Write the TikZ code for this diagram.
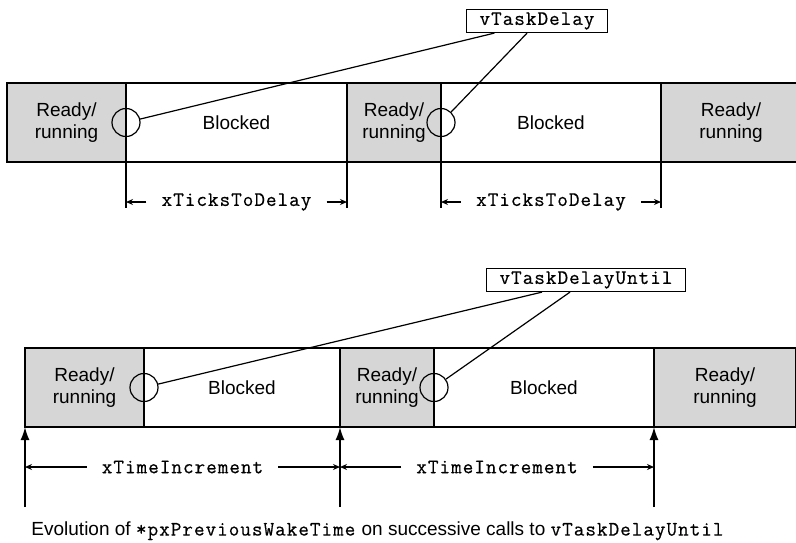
\documentclass[tikz,border=0pt]{standalone}
\usepackage{fontspec}
\setmainfont{Liberation Sans}
\setmonofont{Latin Modern Mono}[Scale=1.08, LetterSpace=5, FakeBold=0.5]
\usetikzlibrary{positioning,arrows.meta,calc}

\begin{document}
\begin{tikzpicture}[
    x=1pt, y=-1pt,
    font=\fontsize{19}{22}\selectfont,
    slot/.style={draw, line width=1.6pt, outer sep=0pt, align=center,
                 minimum height=79pt, inner sep=0pt},
    ready/.style={slot, fill=black!16},
    blocked/.style={slot, fill=white},
    tick/.style={draw, circle, line width=1.2pt, minimum size=28pt, inner sep=0pt},
    apibox/.style={draw, line width=1.2pt, font=\fontsize{19}{22}\selectfont\ttfamily,
                   inner xsep=13pt, inner ysep=0pt, minimum height=23pt},
    lead/.style={line width=1.2pt},
    span/.style={font=\fontsize{19}{22}\selectfont\ttfamily, inner xsep=15pt, inner ysep=0pt},
    dim/.style={-{Stealth[length=7pt,width=6pt]}, line width=1.4pt},
    wake/.style={-{Latex[length=13pt,width=9pt]}, line width=1.6pt},
  ]
  \useasboundingbox (0,0) rectangle (796,542);

  % --- upper bar: vTaskDelay ---
  \node[ready, minimum width=119pt, anchor=north west] (t1) at (7,83) {Ready/\\running};
  \node[blocked, minimum width=221pt, right=0pt of t1] (t2) {Blocked};
  \node[ready, minimum width=94pt, right=0pt of t2] (t3) {Ready/\\running};
  \node[blocked, minimum width=220pt, right=0pt of t3] (t4) {Blocked};
  \node[ready, minimum width=140pt, right=0pt of t4] (t5) {Ready/\\running};

  \node[tick] (tc1) at (t1.east) {};
  \node[tick] (tc2) at (t3.east) {};

  \node[apibox] (td) at (537,21) {vTaskDelay};
  \draw[lead] ($(td.south west)!0.2!(td.south east)$) -- (tc1);
  \draw[lead] ($(td.south west)!0.43!(td.south east)$) -- (tc2);

  % --- upper spans ---
  \draw[line width=1.4pt] (t2.south west) -- ++(0,46);
  \draw[line width=1.4pt] (t2.south east) -- ++(0,46);
  \draw[line width=1.4pt] (t4.south west) -- ++(0,46);
  \draw[line width=1.4pt] (t4.south east) -- ++(0,46);

  \node[span] (s1) at ($(t2.south)+(0,40)$) {xTicksToDelay};
  \node[span] (s2) at ($(t4.south)+(0,40)$) {xTicksToDelay};
  \draw[dim] (s1.west) -- (s1.west -| t2.west);
  \draw[dim] (s1.east) -- (s1.east -| t2.east);
  \draw[dim] (s2.west) -- (s2.west -| t4.west);
  \draw[dim] (s2.east) -- (s2.east -| t4.east);

  % --- lower bar: vTaskDelayUntil ---
  \node[ready, minimum width=119pt, anchor=north west] (b1) at (25,348) {Ready/\\running};
  \node[blocked, minimum width=196pt, right=0pt of b1] (b2) {Blocked};
  \node[ready, minimum width=94pt, right=0pt of b2] (b3) {Ready/\\running};
  \node[blocked, minimum width=220pt, right=0pt of b3] (b4) {Blocked};
  \node[ready, minimum width=142pt, right=0pt of b4] (b5) {Ready/\\running};

  \node[tick] (bc1) at (b1.east) {};
  \node[tick] (bc2) at (b3.east) {};

  \node[apibox] (tu) at (586,280) {vTaskDelayUntil};
  \draw[lead] ($(tu.south west)!0.28!(tu.south east)$) -- (bc1);
  \draw[lead] ($(tu.south west)!0.42!(tu.south east)$) -- (bc2);

  % --- wake times ---
  \coordinate (w1) at ($(b1.south west)+(0,80)$);
  \coordinate (w2) at ($(b3.south west)+(0,80)$);
  \coordinate (w3) at ($(b5.south west)+(0,80)$);
  \draw[wake] (w1) -- (b1.south west);
  \draw[wake] (w2) -- (b3.south west);
  \draw[wake] (w3) -- (b5.south west);

  \node[span] (i1) at ($(w1)!0.5!(w2)+(0,-40)$) {xTimeIncrement};
  \node[span] (i2) at ($(w2)!0.5!(w3)+(0,-40)$) {xTimeIncrement};
  \draw[dim] (i1.west) -- (i1.west -| w1);
  \draw[dim] (i1.east) -- (i1.east -| w2);
  \draw[dim] (i2.west) -- (i2.west -| w2);
  \draw[dim] (i2.east) -- (i2.east -| w3);

  % --- caption ---
  \node (cap) at (378,531)
    {Evolution of \texttt{*pxPreviousWakeTime} on successive calls to \texttt{vTaskDelayUntil}};
\end{tikzpicture}
\end{document}
